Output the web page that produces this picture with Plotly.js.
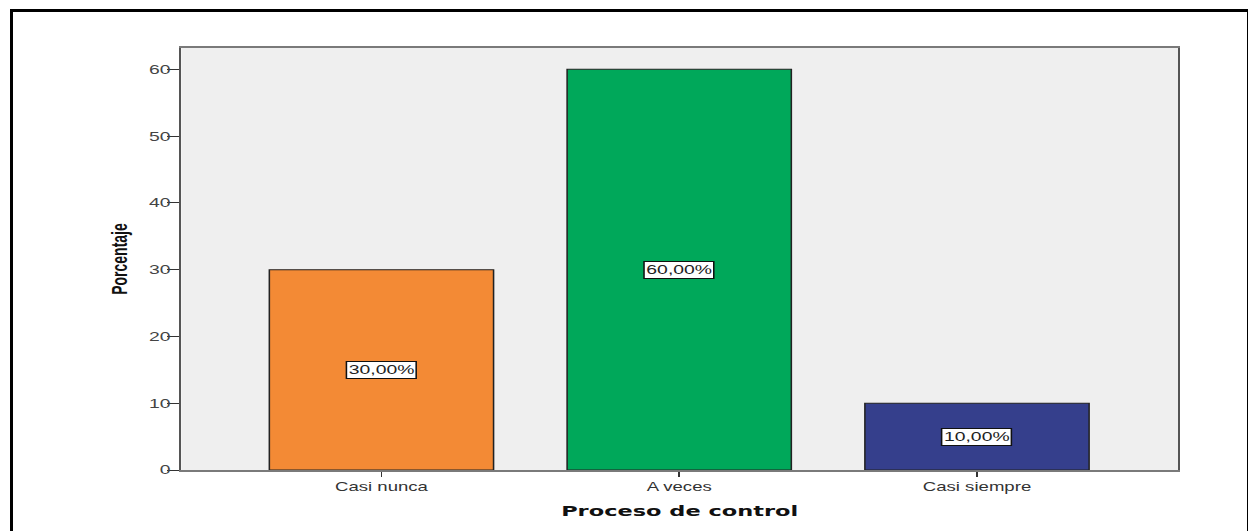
<!DOCTYPE html>
<html><head><meta charset="utf-8">
<script src="https://cdn.plot.ly/plotly-3.0.1.min.js"></script>
<style>
html,body{margin:0;padding:0;background:#fff;}
#wrap{position:relative;width:1248px;height:531px;overflow:hidden;}
#frame{position:absolute;left:10px;top:9px;width:1240px;height:540px;border:3px solid #000;box-sizing:border-box;pointer-events:none;z-index:5;}
#chart{position:absolute;left:0;top:0;width:805px;height:531px;transform-origin:0 0;transform:scaleX(1.55);}
</style></head>
<body><div id="wrap"><div id="chart"></div><div id="frame"></div></div>
<script>
const categories = ["Casi nunca", "A veces", "Casi siempre"];
const values = [30, 60, 10];
const labels = ["30,00%", "60,00%", "10,00%"];
const colors = ["#f38a35", "#00a85a", "#353f8c"];

const trace = {
  type: "bar", x: categories, y: values, width: 0.753,
  marker: {color: colors, line: {color: "#222", width: 1}},
  hoverinfo: "skip"
};
const annotations = categories.map((c, i) => ({
  x: c, y: values[i] / 2, xref: "x", yref: "y", text: labels[i], showarrow: false,
  font: {family: "Liberation Sans, Arial, sans-serif", size: 12.5, color: "#222"},
  bgcolor: "#fff", bordercolor: "#111", borderwidth: 1, borderpad: 1
}));
const layout = {
  width: 805, height: 531,
  margin: {l: 117.4, r: 45.2, t: 48, b: 61},
  paper_bgcolor: "#fff", plot_bgcolor: "#efefef",
  showlegend: false,
  xaxis: {
    type: "category", range: [-0.672, 2.675],
    showline: true, linecolor: "#7a7a7a", linewidth: 2, mirror: true,
    ticks: "outside", ticklen: 5, tickcolor: "#333", tickwidth: 1,
    tickfont: {family: "Liberation Sans, Arial, sans-serif", size: 12, color: "#333"},
    title: {text: "Proceso de control", standoff: 12,
      font: {family: "DejaVu Sans, sans-serif", size: 14.5, color: "#111", weight: "bold"}},
    fixedrange: true
  },
  yaxis: {
    range: [0, 63.2], tickvals: [0, 10, 20, 30, 40, 50, 60],
    showgrid: false, zeroline: false,
    showline: true, linecolor: "#555", linewidth: 1.5, mirror: true,
    ticks: "outside", ticklen: 8, tickcolor: "#333", tickwidth: 1,
    ticklabelstandoff: -5,
    tickfont: {family: "Liberation Sans, Arial, sans-serif", size: 12.5, color: "#444"},
    title: {text: "Porcentaje", standoff: 10,
      font: {family: "Liberation Sans, Arial, sans-serif", size: 14, color: "#111", weight: "bold"}},
    fixedrange: true
  },
  annotations: annotations
};
Plotly.newPlot("chart", [trace], layout, {displayModeBar: false, staticPlot: true});
</script></body></html>
